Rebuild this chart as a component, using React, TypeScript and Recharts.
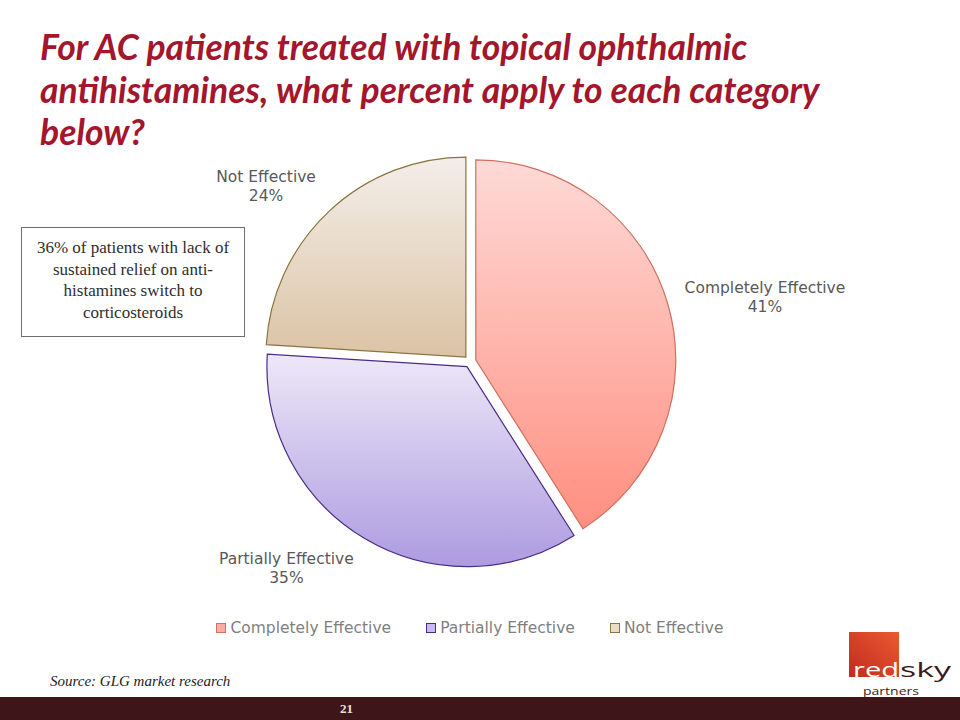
import React from "react";
import { PieChart, Pie } from "recharts";

const categories = ["Completely Effective", "Partially Effective", "Not Effective"];
const shares = [41, 35, 24];
const shareLabels = ["41%", "35%", "24%"];

const gradTop = ["#fedad7", "#ede8f8", "#f4eee9"];
const gradBottom = ["#ff8f80", "#ad9be0", "#dbc3a5"];
const strokes = ["#d0705f", "#4b2a86", "#8a7440"];
const swatch = ["#f9ada4", "#c8bbec", "#e9dccb"];

// layout of the slide (px)
const CX = 470;
const CY = 361.5;
const R = 200;
const EXPLODE = 6;
// label placement, polar around the pie centre (deg, px)
const labelAngle = [12.4, 228.3, 139.3];
const labelDist = [302, 276, 269];

const RAD = Math.PI / 180;
const total = shares.reduce((a, b) => a + b, 0);

function buildSlices() {
  let start = 90;
  return categories.map((name, i) => {
    const sweep = (shares[i] / total) * 360;
    const end = start - sweep;
    const mid = (start + end) / 2;
    const s = { name, value: shares[i], start, end, mid, i };
    start = end;
    return s;
  });
}

const slices = buildSlices();

function makeLabel(i: number) {
  return () => {
    const x = CX + labelDist[i] * Math.cos(labelAngle[i] * RAD);
    const y = CY - labelDist[i] * Math.sin(labelAngle[i] * RAD);
    return (
      <text
        x={x}
        y={y - 4}
        textAnchor="middle"
        fill="#595959"
        style={{ fontFamily: "DejaVu Sans", fontSize: 15.5 }}
      >
        <tspan x={x} dy={0}>{categories[i]}</tspan>
        <tspan x={x} dy={19}>{shareLabels[i]}</tspan>
      </text>
    );
  };
}

function Logo() {
  return (
    <svg width={120} height={72} style={{ position: "absolute", left: 840, top: 626 }}>
      <defs>
        <linearGradient id="logoGrad" x1="1" y1="0" x2="0" y2="1">
          <stop offset="0%" stopColor="#ea5a30" />
          <stop offset="100%" stopColor="#c22a20" />
        </linearGradient>
      </defs>
      <rect x={9} y={6} width={50} height={45} fill="url(#logoGrad)" />
      <text style={{ fontFamily: "Open Sans" }}>
        <tspan x={13} y={51} fill="#ffffff" fontSize={20} textLength={46} lengthAdjust="spacingAndGlyphs">
          red
        </tspan>
        <tspan x={60} y={51} fill="#3a1a1c" fontSize={20} textLength={51} lengthAdjust="spacingAndGlyphs">
          sky
        </tspan>
      </text>
      <text
        x={23}
        y={68.5}
        fill="#3a1a1c"
        fontSize={11.5}
        textLength={56}
        lengthAdjust="spacingAndGlyphs"
        style={{ fontFamily: "Open Sans" }}
      >
        partners
      </text>
    </svg>
  );
}

export default function App() {
  return (
    <div
      style={{
        position: "absolute",
        left: 0,
        top: 0,
        width: 960,
        height: 720,
        background: "#ffffff",
        overflow: "hidden",
      }}
    >
      <div
        style={{
          position: "absolute",
          left: 40,
          top: 26,
          fontFamily: "Lato",
          fontWeight: 700,
          fontStyle: "italic",
          fontSize: 35.5,
          lineHeight: "42.5px",
          color: "#a3162c",
          whiteSpace: "nowrap",
        }}
      >
        For AC patients treated with topical ophthalmic
        <br />
        antihistamines, what percent apply to each category
        <br />
        below?
      </div>

      <div style={{ position: "absolute", left: 0, top: 0 }}>
        <PieChart width={960} height={720} margin={{ top: 0, right: 0, bottom: 0, left: 0 }}>
          <defs>
            {slices.map((s) => (
              <linearGradient key={s.name} id={`slice${s.i}`} x1="0" y1="0" x2="0" y2="1">
                <stop offset="0%" stopColor={gradTop[s.i]} />
                <stop offset="100%" stopColor={gradBottom[s.i]} />
              </linearGradient>
            ))}
          </defs>
          {slices.map((s) => (
            <Pie
              key={s.name}
              data={[{ name: s.name, value: s.value }]}
              dataKey="value"
              nameKey="name"
              cx={CX + EXPLODE * Math.cos(s.mid * RAD)}
              cy={CY - EXPLODE * Math.sin(s.mid * RAD)}
              innerRadius={0}
              outerRadius={R}
              startAngle={s.start}
              endAngle={s.end}
              fill={`url(#slice${s.i})`}
              stroke={strokes[s.i]}
              strokeWidth={1.2}
              label={makeLabel(s.i)}
              labelLine={false}
              isAnimationActive={false}
            />
          ))}
        </PieChart>
      </div>

      <div
        style={{
          position: "absolute",
          left: 0,
          top: 619,
          width: 940,
          display: "flex",
          justifyContent: "center",
          gap: 35,
          fontFamily: "DejaVu Sans",
          fontSize: 15.5,
          color: "#7f7f7f",
        }}
      >
        {categories.map((c, i) => (
          <div key={c} style={{ display: "flex", alignItems: "center" }}>
            <span
              style={{
                display: "inline-block",
                width: 8,
                height: 8,
                background: swatch[i],
                border: `1px solid ${strokes[i]}`,
                marginRight: 4,
              }}
            />
            <span>{c}</span>
          </div>
        ))}
      </div>

      <div
        style={{
          position: "absolute",
          left: 21,
          top: 227,
          width: 222,
          height: 108,
          border: "1px solid #6f6f6f",
          fontFamily: "Liberation Serif",
          fontSize: 17,
          lineHeight: "21.5px",
          color: "#2e2e2e",
          textAlign: "center",
          boxSizing: "content-box",
        }}
      >
        <div style={{ paddingTop: 9 }}>
          36% of patients with lack of
          <br />
          sustained relief on anti-
          <br />
          histamines switch to
          <br />
          corticosteroids
        </div>
      </div>

      <div
        style={{
          position: "absolute",
          left: 50,
          top: 673,
          fontFamily: "Liberation Serif",
          fontStyle: "italic",
          fontSize: 15,
          color: "#222222",
        }}
      >
        Source: GLG market research
      </div>

      <Logo />

      <div
        style={{
          position: "absolute",
          left: 0,
          top: 697,
          width: 960,
          height: 23,
          background: "#3e1518",
        }}
      >
        <div
          style={{
            position: "absolute",
            left: 340,
            top: 4,
            fontFamily: "Liberation Serif",
            fontWeight: 700,
            fontSize: 13,
            color: "#e8e0e0",
          }}
        >
          21
        </div>
      </div>
    </div>
  );
}
